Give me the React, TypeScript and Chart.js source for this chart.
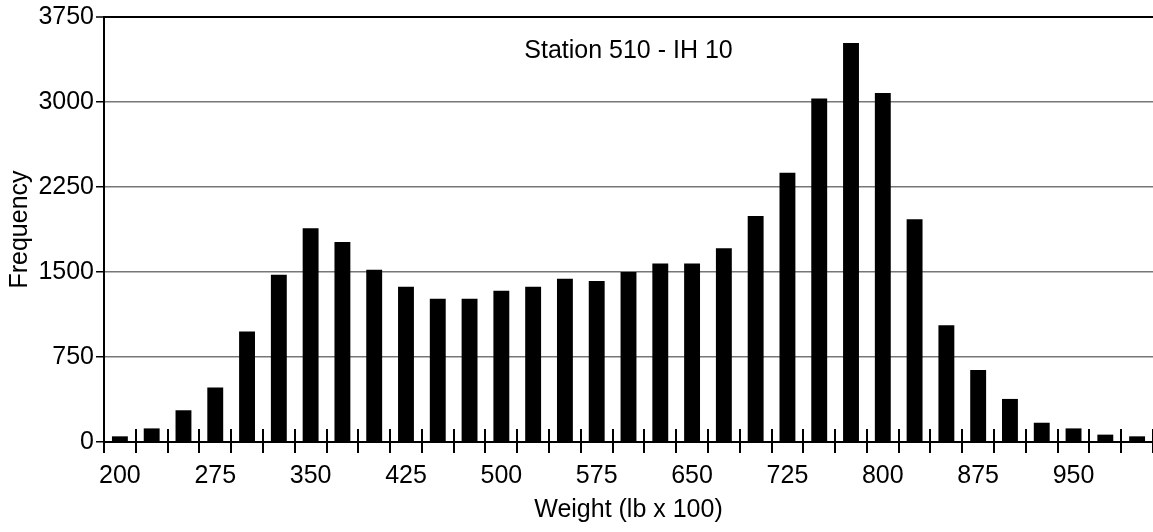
import { useEffect, useRef } from 'react';
import { Chart, registerables } from 'chart.js';

Chart.register(...registerables);

const weightLabels = [
  '200', '225', '250', '275', '300', '325', '350', '375', '400', '425', '450',
  '475', '500', '525', '550', '575', '600', '625', '650', '675', '700', '725',
  '750', '775', '800', '825', '850', '875', '900', '925', '950', '975', '1000',
];

const frequencies = [
  50, 120, 280, 480, 975, 1475, 1885, 1765, 1520, 1370, 1265,
  1265, 1335, 1370, 1440, 1420, 1500, 1575, 1575, 1710, 1995, 2375,
  3030, 3520, 3080, 1965, 1030, 635, 380, 170, 120, 65, 50,
];

const yMin = 0;
const yMax = 3750;
const yStep = 750;
const labelEvery = 3;

const chartTitle = 'Station 510 - IH 10';
const xAxisTitle = 'Weight (lb x 100)';
const yAxisTitle = 'Frequency';

const FONT = '"Liberation Sans", Arial, sans-serif';
const FONT_SIZE = 25;

const innerTicksAndTitle = {
  id: 'innerTicksAndTitle',
  afterDraw(chart: any) {
    const { ctx, chartArea, scales } = chart;
    const x = scales.x;
    const n = weightLabels.length;
    ctx.save();
    ctx.strokeStyle = '#000';
    ctx.lineWidth = 2;
    for (let i = 0; i <= n; i++) {
      const px = Math.round(x.getPixelForValue(i - 0.5));
      ctx.beginPath();
      ctx.moveTo(px, chartArea.bottom);
      ctx.lineTo(px, chartArea.bottom - 13);
      ctx.stroke();
    }
    ctx.fillStyle = '#000';
    ctx.font = `${FONT_SIZE}px ${FONT}`;
    ctx.textAlign = 'center';
    ctx.textBaseline = 'middle';
    ctx.fillText(chartTitle, (chartArea.left + chartArea.right) / 2, chartArea.top + 34);
    ctx.restore();
  },
};

export default function App() {
  const canvasRef = useRef<HTMLCanvasElement | null>(null);

  useEffect(() => {
    const canvas = canvasRef.current;
    if (!canvas) return;
    const chart = new Chart(canvas, {
      type: 'bar',
      data: {
        labels: weightLabels,
        datasets: [
          {
            label: yAxisTitle,
            data: frequencies,
            backgroundColor: '#000',
            borderWidth: 0,
            barPercentage: 0.5,
            categoryPercentage: 1,
          },
        ],
      },
      options: {
        animation: false,
        responsive: false,
        maintainAspectRatio: false,
        layout: { padding: { left: 0, right: 0, top: 0, bottom: 0 } },
        plugins: {
          legend: { display: false },
          tooltip: { enabled: false },
          title: { display: false },
        },
        scales: {
          x: {
            type: 'category',
            offset: true,
            afterFit(scale: any) {
              scale.height = 90;
            },
            grid: {
              display: true,
              offset: true,
              drawOnChartArea: false,
              drawTicks: true,
              tickLength: 11,
              tickWidth: 2,
              tickColor: '#000',
              color: '#000',
              lineWidth: 2,
            },
            border: { display: true, color: '#000', width: 2 },
            ticks: {
              autoSkip: false,
              maxRotation: 0,
              minRotation: 0,
              padding: 8,
              color: '#000',
              font: { family: FONT, size: FONT_SIZE },
              callback: (_v: any, idx: number) => (idx % labelEvery === 0 ? weightLabels[idx] : ''),
            },
            title: {
              display: true,
              text: xAxisTitle,
              color: '#000',
              font: { family: FONT, size: FONT_SIZE },
              padding: { top: 0, bottom: 7 },
            },
          },
          y: {
            min: yMin,
            max: yMax,
            afterFit(scale: any) {
              scale.width = 104;
            },
            grid: {
              drawTicks: true,
              tickLength: 8,
              tickColor: '#000',
              tickWidth: 1.5,
              color: (c: any) => (c.tick && (c.tick.value === yMax || c.tick.value === yMin) ? '#000' : '#777'),
              lineWidth: (c: any) => (c.tick && c.tick.value === yMax ? 2 : 1.5),
            },
            border: { display: true, color: '#000', width: 2 },
            ticks: {
              stepSize: yStep,
              padding: 2,
              color: '#000',
              font: { family: FONT, size: FONT_SIZE },
              callback: (v: any) => String(v),
            },
            title: {
              display: true,
              text: yAxisTitle,
              color: '#000',
              font: { family: FONT, size: FONT_SIZE },
              padding: { top: 5, bottom: 0 },
            },
          },
        },
      },
      plugins: [innerTicksAndTitle],
    });
    return () => chart.destroy();
  }, []);

  return (
    <div style={{ position: 'absolute', left: 0, top: 0, width: 1153, height: 532, background: '#fff' }}>
      <canvas ref={canvasRef} width={1153} height={532} style={{ display: 'block' }} />
    </div>
  );
}
